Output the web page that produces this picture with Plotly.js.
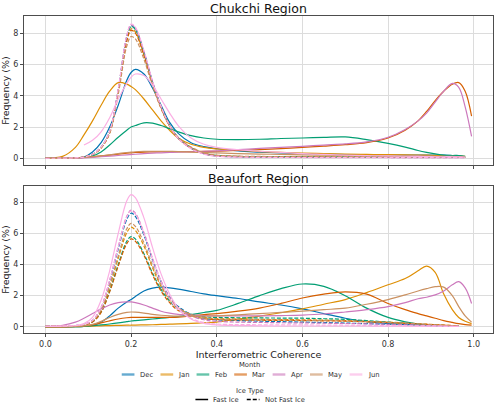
<!DOCTYPE html>
<html>
<head>
<meta charset="utf-8">
<script src="https://cdn.plot.ly/plotly-3.0.1.min.js"></script>
<style>
  html, body { margin: 0; padding: 0; background: #fff; }
  #chart { width: 500px; height: 407px; }
</style>
</head>
<body>
<div id="chart"></div>
<script>
// Coherence sample positions shared by every density curve
const coherence = [0.00, 0.04, 0.07, 0.09, 0.11, 0.13, 0.15, 0.17, 0.19, 0.20, 0.21, 0.23,
  0.25, 0.27, 0.29, 0.31, 0.34, 0.37, 0.40, 0.45, 0.50, 0.55, 0.60, 0.65, 0.70, 0.75,
  0.80, 0.84, 0.87, 0.89, 0.91, 0.93, 0.95, 0.965, 0.98, 0.995];

const months = ['Dec', 'Jan', 'Feb', 'Mar', 'Apr', 'May', 'Jun'];
const monthColors = ['#0173b2', '#de8f05', '#029e73', '#d55e00', '#cc78bc', '#ca9161', '#fbafe4'];
const iceTypes = ['Fast Ice', 'Not Fast Ice'];
const iceDashes = ['solid', '4px,2px'];

// Chukchi Region, Fast Ice (%)
const chukFastDec = [0,0,0.02,0.08,0.4,1.0,2.0,3.4,5.0,5.5,5.7,5.4,4.5,3.4,2.3,1.6,1.0,0.75,0.62,0.47,0.4,0.34,0.3,0.27,0.24,0.22,0.21,0.2,0.2,0.2,0.2,0.2,0.18,0.15,0.1,null];
const chukFastJan = [0,0.12,0.7,1.5,2.4,3.4,4.3,4.85,4.75,4.6,4.4,3.8,3.1,2.4,1.8,1.3,0.9,0.7,0.6,0.5,0.43,0.38,0.33,0.3,0.27,0.25,0.23,0.22,0.21,0.2,0.19,0.18,0.17,0.15,0.12,null];
const chukFastFeb = [0,0,0.01,0.05,0.15,0.4,0.85,1.35,1.8,2.0,2.1,2.27,2.25,2.1,1.9,1.7,1.45,1.3,1.22,1.2,1.22,1.27,1.3,1.34,1.37,1.2,0.96,0.72,0.5,0.38,0.28,0.2,0.18,0.18,0.12,null];
const chukFastMar = [0,0,0.02,0.05,0.1,0.15,0.2,0.27,0.33,0.35,0.37,0.4,0.41,0.42,0.42,0.42,0.43,0.44,0.45,0.5,0.55,0.62,0.7,0.78,0.87,1.0,1.3,1.8,2.4,3.0,3.7,4.3,4.75,4.85,4.3,2.7];
const chukFastApr = [0,0,0.01,0.03,0.06,0.1,0.14,0.18,0.22,0.24,0.26,0.3,0.33,0.35,0.37,0.39,0.42,0.45,0.48,0.55,0.63,0.7,0.77,0.85,0.92,1.05,1.35,1.85,2.4,2.9,3.6,4.3,4.8,4.55,3.3,1.4];
const chukFastMay = [0,0,0.02,0.05,0.1,0.16,0.22,0.3,0.37,0.4,0.42,0.44,0.45,0.45,0.44,0.43,0.4,0.37,0.35,0.3,0.27,0.25,0.22,0.2,0.18,0.17,0.16,0.15,0.15,0.14,0.13,0.12,0.12,0.1,0.08,null];
const chukFastJun = [null,null,null,0.85,1.15,1.7,2.6,3.8,4.8,5.2,5.4,5.3,4.7,3.8,2.9,2.1,1.3,0.9,0.7,0.55,0.45,0.38,0.3,0.25,0.2,0.17,0.15,0.13,0.12,0.11,0.1,0.1,0.1,0.09,0.08,null];

// Chukchi Region, Not Fast Ice (%)
const chukOpenDec = [0,0.01,0.03,0.08,0.25,0.7,1.7,4.4,7.8,8.5,8.3,6.8,4.9,3.3,2.1,1.3,0.65,0.3,0.15,0.1,0.08,0.07,0.07,0.06,0.06,0.06,0.05,0.05,0.05,0.05,0.05,0.05,0.05,0.05,0.05,null];
const chukOpenJan = [0,0.01,0.03,0.08,0.24,0.68,1.66,4.3,7.6,8.3,8.1,6.65,4.8,3.25,2.1,1.3,0.67,0.32,0.17,0.12,0.1,0.09,0.08,0.08,0.07,0.07,0.07,0.06,0.06,0.06,0.06,0.06,0.06,0.05,0.05,null];
const chukOpenFeb = [0,0.01,0.03,0.08,0.25,0.7,1.7,4.38,7.75,8.45,8.25,6.77,4.88,3.3,2.12,1.32,0.68,0.33,0.18,0.12,0.1,0.09,0.09,0.08,0.08,0.07,0.07,0.07,0.06,0.06,0.06,0.06,0.05,0.05,0.05,null];
const chukOpenMar = [0,0.01,0.03,0.08,0.24,0.67,1.64,4.25,7.52,8.2,8.02,6.58,4.75,3.2,2.05,1.28,0.65,0.3,0.16,0.11,0.09,0.08,0.07,0.07,0.06,0.06,0.06,0.06,0.05,0.05,0.05,0.05,0.05,0.05,0.05,null];
const chukOpenApr = [0,0.01,0.03,0.08,0.25,0.7,1.71,4.43,7.85,8.55,8.35,6.84,4.93,3.32,2.1,1.3,0.64,0.29,0.14,0.09,0.07,0.06,0.06,0.05,0.05,0.05,0.05,0.04,0.04,0.04,0.04,0.04,0.04,0.04,0.04,null];
const chukOpenMay = [0,0.01,0.03,0.08,0.24,0.66,1.6,4.1,7.2,7.8,7.65,6.35,4.65,3.2,2.1,1.35,0.72,0.36,0.2,0.14,0.12,0.11,0.1,0.1,0.09,0.09,0.09,0.08,0.08,0.08,0.08,0.08,0.07,0.07,0.06,null];
const chukOpenJun = [0,0.01,0.03,0.08,0.26,0.72,1.74,4.48,7.9,8.6,8.4,6.9,4.95,3.33,2.1,1.28,0.62,0.27,0.13,0.08,0.06,0.05,0.05,0.04,0.04,0.04,0.04,0.04,0.04,0.04,0.04,0.04,0.04,0.04,0.04,null];

// Beaufort Region, Fast Ice (%)
const beauFastDec = [0,0,0.01,0.03,0.1,0.3,0.7,1.2,1.6,1.75,1.95,2.3,2.48,2.55,2.5,2.42,2.27,2.12,2.0,1.82,1.6,1.4,1.15,0.85,0.55,0.33,0.2,0.15,0.1,0.08,0.06,0.05,0.04,0.03,null,null];
const beauFastJan = [0,0,0.01,0.02,0.04,0.06,0.08,0.09,0.1,0.1,0.11,0.12,0.13,0.15,0.17,0.19,0.22,0.26,0.3,0.5,0.68,0.9,1.15,1.45,1.75,2.2,2.7,3.1,3.6,3.9,3.5,2.1,1.1,0.6,0.35,0.2];
const beauFastFeb = [0,0,0.01,0.03,0.07,0.12,0.18,0.25,0.33,0.37,0.4,0.45,0.5,0.55,0.6,0.65,0.78,0.92,1.05,1.5,2.0,2.45,2.75,2.6,2.0,1.2,0.6,0.32,0.18,0.12,0.08,0.05,0.03,0.02,null,null];
const beauFastMar = [0,0,0.02,0.05,0.12,0.25,0.38,0.5,0.58,0.6,0.6,0.6,0.6,0.6,0.6,0.62,0.7,0.78,0.85,1.0,1.2,1.5,1.85,2.1,2.25,2.1,1.5,1.1,0.85,0.7,0.55,0.4,0.28,0.2,0.14,0.1];
const beauFastApr = [0.02,0.1,0.3,0.55,0.85,1.15,1.4,1.55,1.6,1.6,1.55,1.4,1.2,1.0,0.88,0.8,0.75,0.72,0.7,0.7,0.7,0.72,0.75,0.82,0.95,1.1,1.3,1.55,1.8,1.9,2.05,2.3,2.7,2.9,2.5,1.5];
const beauFastMay = [0,0,0.02,0.05,0.15,0.35,0.6,0.8,0.93,0.95,0.94,0.88,0.8,0.74,0.7,0.68,0.68,0.69,0.7,0.77,0.85,0.92,1.0,1.1,1.2,1.45,1.75,2.05,2.3,2.45,2.58,2.55,2.0,1.3,0.7,0.3];
const beauFastJun = [0.02,0.04,0.08,0.2,0.6,1.7,3.6,6.0,8.1,8.5,8.3,7.0,5.1,3.4,2.1,1.2,0.5,0.22,0.12,0.08,0.06,0.05,0.05,0.05,0.05,0.05,0.04,0.04,0.04,0.04,0.04,0.04,0.03,0.03,null,null];

// Beaufort Region, Not Fast Ice (%)
const beauOpenDec = [0.03,0.05,0.08,0.15,0.4,1.2,2.9,5.0,6.9,7.3,7.1,5.9,4.3,2.9,1.9,1.3,0.8,0.55,0.45,0.4,0.36,0.33,0.3,0.27,0.24,0.2,0.16,0.13,0.1,0.08,0.07,0.05,0.04,0.03,null,null];
const beauOpenJan = [0.03,0.05,0.07,0.13,0.35,1.05,2.55,4.4,6.05,6.4,6.2,5.2,3.8,2.6,1.75,1.2,0.8,0.6,0.52,0.5,0.48,0.46,0.45,0.43,0.4,0.35,0.3,0.24,0.2,0.17,0.14,0.11,0.08,0.06,null,null];
const beauOpenFeb = [0.03,0.05,0.07,0.12,0.32,0.95,2.3,4.0,5.5,5.8,5.65,4.7,3.45,2.4,1.65,1.15,0.8,0.65,0.6,0.58,0.57,0.56,0.55,0.52,0.48,0.4,0.3,0.22,0.17,0.13,0.1,0.08,0.06,0.04,null,null];
const beauOpenMar = [0.03,0.05,0.07,0.12,0.31,0.93,2.25,3.9,5.35,5.65,5.5,4.6,3.35,2.3,1.55,1.05,0.7,0.52,0.46,0.44,0.42,0.41,0.4,0.38,0.36,0.32,0.27,0.22,0.18,0.15,0.12,0.1,0.07,0.05,null,null];
const beauOpenApr = [0.03,0.05,0.08,0.15,0.41,1.25,3.0,5.15,7.1,7.5,7.3,6.05,4.4,2.95,1.9,1.25,0.72,0.45,0.35,0.3,0.28,0.26,0.25,0.23,0.21,0.19,0.16,0.13,0.11,0.09,0.07,0.05,0.04,0.03,null,null];
const beauOpenMay = [0.03,0.05,0.07,0.13,0.37,1.1,2.65,4.55,6.3,6.65,6.45,5.4,3.95,2.7,1.8,1.22,0.78,0.57,0.5,0.47,0.45,0.44,0.42,0.4,0.37,0.33,0.28,0.23,0.19,0.16,0.13,0.1,0.07,0.05,null,null];
const beauOpenJun = [0.03,0.05,0.08,0.15,0.41,1.23,2.98,5.1,7.05,7.45,7.25,6.0,4.35,2.9,1.8,1.1,0.55,0.28,0.18,0.14,0.13,0.12,0.12,0.11,0.1,0.09,0.08,0.07,0.06,0.05,0.04,0.03,0.03,0.02,null,null];

const chukFast = [chukFastDec, chukFastJan, chukFastFeb, chukFastMar, chukFastApr, chukFastMay, chukFastJun];
const chukOpen = [chukOpenDec, chukOpenJan, chukOpenFeb, chukOpenMar, chukOpenApr, chukOpenMay, chukOpenJun];
const beauFast = [beauFastDec, beauFastJan, beauFastFeb, beauFastMar, beauFastApr, beauFastMay, beauFastJun];
const beauOpen = [beauOpenDec, beauOpenJan, beauOpenFeb, beauOpenMar, beauOpenApr, beauOpenMay, beauOpenJun];

const FONT = 'DejaVu Sans, sans-serif';
const TEXT_GREY = '#333333';
const W = 500, H = 407;
const M = { l: 24, r: 7, t: 16, b: 74 };
const traces = [];

function addCurves(fastSet, openSet, xa, ya) {
  months.forEach((m, i) => {
    traces.push({
      x: coherence, y: fastSet[i], xaxis: xa, yaxis: ya, name: m + ' ' + iceTypes[0],
      type: 'scatter', mode: 'lines', showlegend: false, hoverinfo: 'skip',
      line: { color: monthColors[i], width: 1.2, dash: iceDashes[0], shape: 'spline', smoothing: 1 },
      connectgaps: false
    });
    traces.push({
      x: coherence, y: openSet[i], xaxis: xa, yaxis: ya, name: m + ' ' + iceTypes[1],
      type: 'scatter', mode: 'lines', showlegend: false, hoverinfo: 'skip',
      line: { color: monthColors[i], width: 1.2, dash: '4px,1.8px', shape: 'spline', smoothing: 1 },
      connectgaps: false
    });
  });
}
addCurves(chukFast, chukOpen, 'x2', 'y2');
addCurves(beauFast, beauOpen, 'x', 'y');

// Pixel position inside the figure -> paper fraction
const plotW = W - M.l - M.r, plotH = H - M.t - M.b;
const px2x = px => (px - M.l) / plotW;
const py2y = py => (H - M.b - py) / plotH;

// Two-part legend below the axes: month colours, then ice-type line styles
const measure = document.createElement('canvas').getContext('2d');
const LEG_FONT = 6.8;
measure.font = LEG_FONT + 'px "DejaVu Sans"';
const shapes = [];
const annotations = [];
const greyText = s => '<span style="color:' + TEXT_GREY + '">' + s + '</span>';

function legendBlock(title, labels, styleFor, centerPx, titleY, rowY) {
  const keyLen = 12.7, textGap = 4.3, colGap = 8.6;
  const widths = labels.map(l => keyLen + textGap + measure.measureText(l).width);
  const total = widths.reduce((a, b) => a + b, 0) + colGap * (labels.length - 1);
  annotations.push({
    text: greyText(title), xref: 'paper', yref: 'paper', x: px2x(centerPx), y: py2y(titleY),
    xanchor: 'center', yanchor: 'middle', showarrow: false, borderpad: 0,
    font: { family: FONT, size: LEG_FONT, color: TEXT_GREY }
  });
  let x = centerPx - total / 2;
  labels.forEach((l, i) => {
    const st = styleFor(i);
    shapes.push({
      type: 'line', xref: 'paper', yref: 'paper', layer: 'above',
      x0: px2x(x), x1: px2x(x + keyLen), y0: py2y(rowY), y1: py2y(rowY),
      line: { color: st.color, width: st.width, dash: st.dash }, opacity: st.opacity
    });
    annotations.push({
      text: greyText(l), xref: 'paper', yref: 'paper', x: px2x(x + keyLen + textGap), y: py2y(rowY),
      xanchor: 'left', yanchor: 'middle', showarrow: false, borderpad: 0,
      font: { family: FONT, size: LEG_FONT, color: TEXT_GREY }
    });
    x += widths[i] + colGap;
  });
}
legendBlock('Month', months, i => ({ color: monthColors[i], width: 2.4, dash: 'solid', opacity: 0.6 }),
  249.5, 365, 374.5);
legendBlock('Ice Type', iceTypes, i => ({ color: '#000', width: 1.5, dash: iceDashes[i], opacity: 1 }),
  249.5, 391, 399.5);

// Panel titles
annotations.push(
  { text: 'Chukchi Region', xref: 'paper', yref: 'paper', x: 0.5, y: py2y(8.5),
    xanchor: 'center', yanchor: 'middle', showarrow: false, borderpad: 0,
    font: { family: FONT, size: 12.5, color: '#111' } },
  { text: 'Beaufort Region', xref: 'paper', yref: 'paper', x: 0.5, y: py2y(178.5),
    xanchor: 'center', yanchor: 'middle', showarrow: false, borderpad: 0,
    font: { family: FONT, size: 12.5, color: '#111' } }
);

const gridColor = '#dcdcdc';
const axisCommon = {
  showgrid: true, gridcolor: gridColor, gridwidth: 1, automargin: false,
  zeroline: false, showline: true, mirror: true, linecolor: '#4d4d4d', linewidth: 1,
  ticks: 'outside', ticklen: 3, tickcolor: '#4d4d4d', tickwidth: 1,
  tickfont: { family: FONT, size: 8, color: TEXT_GREY }
};
const xTicks = [0, 0.2, 0.4, 0.6, 0.8, 1.0];
const xTickText = ['0.0', '0.2', '0.4', '0.6', '0.8', '1.0'];
const yTicks = [0, 2, 4, 6, 8];
const yTitle = { text: 'Frequency (%)', font: { family: FONT, size: 9.5, color: '#222' }, standoff: 3 };

const layout = {
  width: W, height: H, margin: M,
  paper_bgcolor: '#fff', plot_bgcolor: '#fff',
  font: { family: FONT, color: '#222' },
  showlegend: false,
  xaxis: Object.assign({}, axisCommon, {
    domain: [0, 1], range: [-0.05, 1.045], tickvals: xTicks, ticktext: xTickText, anchor: 'y',
    title: { text: 'Interferometric Coherence', font: { family: FONT, size: 9.5, color: '#222' }, standoff: 2 }
  }),
  yaxis: Object.assign({}, axisCommon, {
    domain: [0, py2y(186)], range: [-0.4, 9.05], tickvals: yTicks, anchor: 'x', title: yTitle
  }),
  xaxis2: Object.assign({}, axisCommon, {
    domain: [0, 1], range: [-0.05, 1.045], tickvals: xTicks, showticklabels: false, anchor: 'y2'
  }),
  yaxis2: Object.assign({}, axisCommon, {
    domain: [py2y(165), 1], range: [-0.43, 9.12], tickvals: yTicks, anchor: 'x2', title: yTitle
  }),
  shapes: shapes,
  annotations: annotations
};

Plotly.newPlot('chart', traces, layout, { staticPlot: true, displayModeBar: false });
</script>
</body>
</html>
